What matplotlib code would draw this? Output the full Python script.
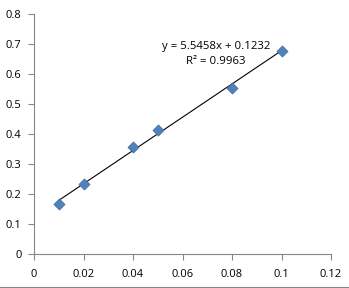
import matplotlib
matplotlib.use("Agg")
import matplotlib.pyplot as plt
import numpy as np

x_vals = [0.01, 0.02, 0.04, 0.05, 0.08, 0.10]
y_vals = [0.167, 0.233, 0.357, 0.413, 0.553, 0.677]
slope = 5.5458
intercept = 0.1232
r2 = 0.9963
x_ticks = [0, 0.02, 0.04, 0.06, 0.08, 0.1, 0.12]
x_labels = ["0", "0.02", "0.04", "0.06", "0.08", "0.1", "0.12"]
y_ticks = [0, 0.1, 0.2, 0.3, 0.4, 0.5, 0.6, 0.7, 0.8]
y_labels = ["0", "0.1", "0.2", "0.3", "0.4", "0.5", "0.6", "0.7", "0.8"]

plt.rcParams['font.family'] = ['Open Sans', 'DejaVu Sans']
W, H = 349, 288
fig = plt.figure(figsize=(W/100, H/100), dpi=100)
ax = fig.add_axes([34/W, (H-254)/H, (331-34)/W, (254-14)/H])

xs = np.array([min(x_vals), max(x_vals)])
ax.plot(xs, slope*xs + intercept, color='black', lw=0.8, zorder=2)
ax.scatter(x_vals, y_vals, marker='D', s=32, color='#4F81BD', edgecolors='#3E6A9E', linewidths=0.5, zorder=3)

ax.set_xlim(0, 0.12)
ax.set_ylim(0, 0.8)
ax.set_xticks(x_ticks)
ax.set_xticklabels(x_labels)
ax.set_yticks(y_ticks)
ax.set_yticklabels(y_labels)
for s in ['top', 'right']:
    ax.spines[s].set_visible(False)
for s in ['left', 'bottom']:
    ax.spines[s].set_color('#868686')
    ax.spines[s].set_linewidth(0.8)
ax.tick_params(direction='out', length=4, width=0.8, color='#868686', labelsize=8, labelcolor='black')
ax.tick_params(axis='x', pad=7)
ax.tick_params(axis='y', pad=5)

ax.text(0.0735, 0.668, f"y = {slope}x + {intercept}\nR² = {r2}", ha='center', va='center',
        fontsize=8.2, linespacing=1.5)

fig.add_artist(plt.Line2D([0, 1], [1.5/H, 1.5/H], color='#868686', lw=0.8))
fig.savefig("out.png", dpi=100)
